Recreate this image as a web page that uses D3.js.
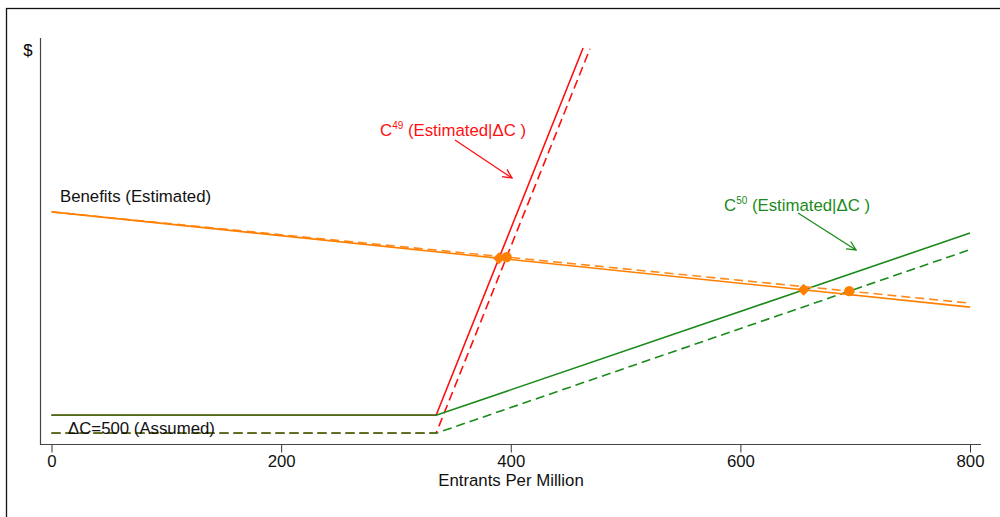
<!DOCTYPE html>
<html>
<head>
<meta charset="utf-8">
<script src="https://cdn.jsdelivr.net/npm/d3@7/dist/d3.min.js"></script>
<style>
  body { margin: 0; background: #fff; }
  text { font-family: "Liberation Sans", Arial, sans-serif; }
</style>
</head>
<body>
<div id="chart"></div>
<script>
// x ticks
const xTicks = [0, 200, 400, 600, 800];

// benefit curves [entrants, $]
const benefitSolid = [[0, 6460], [800, 3810]];
const benefitDashed = [[0, 6460], [800, 3920]];

// cost curves (flat at delta C, then rising)
const c49Solid = [[0, 800], [335, 800], [463, 11020]];
const c49Dashed = [[0, 300], [335, 300], [469, 11000]];
const c50Solid = [[0, 800], [335, 800], [800, 5870]];
const c50Dashed = [[0, 300], [335, 300], [800, 5410]];

const width = 1000, height = 517;
const fontSize = 16.8;

const svg = d3.select('#chart').append('svg')
  .attr('width', width)
  .attr('height', height);

svg.append('rect')
  .attr('x', 6.5).attr('y', 8.5)
  .attr('width', 1000).attr('height', 600)
  .attr('fill', 'none')
  .attr('stroke', '#111')
  .attr('stroke-width', 1.3);

const x = d3.scaleLinear().domain([0, 800]).range([51.5, 970]);
const y = d3.scaleLinear().domain([0, 11300]).range([444, 38]);

// axes
const xAxis = svg.append('g')
  .attr('transform', 'translate(0,444.5)')
  .call(d3.axisBottom(x).tickValues(xTicks).tickSize(8).tickPadding(3));
xAxis.select('.domain').remove();
xAxis.selectAll('line').attr('stroke', '#333');
xAxis.selectAll('text').attr('font-size', fontSize).attr('fill', '#111')
  .attr('font-family', '"Liberation Sans", Arial, sans-serif');

svg.append('line')
  .attr('x1', 40).attr('x2', 981)
  .attr('y1', 444.5).attr('y2', 444.5)
  .attr('stroke', '#444').attr('stroke-width', 1.2);
svg.append('line')
  .attr('x1', 40.5).attr('x2', 40.5)
  .attr('y1', 38).attr('y2', 445)
  .attr('stroke', '#444').attr('stroke-width', 1.2);

svg.append('text').attr('x', 28).attr('y', 56)
  .attr('text-anchor', 'middle').attr('font-size', fontSize).text('$');
svg.append('text').attr('x', 511).attr('y', 486)
  .attr('text-anchor', 'middle').attr('font-size', fontSize).attr('fill', '#111')
  .text('Entrants Per Million');

const line = d3.line().x(d => x(d[0])).y(d => y(d[1]));

function drawLine(data, color, dashed, w) {
  svg.append('path')
    .attr('d', line(data))
    .attr('fill', 'none')
    .attr('stroke', color)
    .attr('stroke-width', w || 1.6)
    .attr('stroke-dasharray', dashed ? '9,5' : null);
}

drawLine(c49Solid, '#ff1010', false);
drawLine(c49Dashed, '#ff1010', true);
drawLine(c50Solid, '#1a8a1a', false);
drawLine(c50Dashed, '#1a8a1a', true);
// overlapping flat parts of both cost curves
drawLine(c50Solid.slice(0, 2), '#4f6a1a', false);
drawLine(c50Dashed.slice(0, 2), '#5a6a1e', true, 1.8);
drawLine(benefitDashed, '#ff8a1a', true);
drawLine(benefitSolid, '#ff7f00', false);

// intersections of two straight segments
function intersect(a, b) {
  const [p1, p2] = a, [p3, p4] = b;
  const m1 = (p2[1] - p1[1]) / (p2[0] - p1[0]);
  const m2 = (p4[1] - p3[1]) / (p4[0] - p3[0]);
  const xi = (p3[1] - m2 * p3[0] - p1[1] + m1 * p1[0]) / (m1 - m2);
  return [xi, p1[1] + m1 * (xi - p1[0])];
}

const diamonds = [intersect(benefitSolid, c49Solid.slice(1)), intersect(benefitSolid, c50Solid.slice(1))];
const circles = [intersect(benefitDashed, c49Dashed.slice(1)), intersect(benefitDashed, c50Dashed.slice(1))];

svg.selectAll('.dia').data(diamonds).enter().append('path')
  .attr('d', d3.symbol().type(d3.symbolSquare).size(72))
  .attr('transform', d => 'translate(' + x(d[0]) + ',' + y(d[1]) + ') rotate(45)')
  .attr('fill', '#ff7f00');
svg.selectAll('.circ').data(circles).enter().append('circle')
  .attr('cx', d => x(d[0])).attr('cy', d => y(d[1])).attr('r', 5.2)
  .attr('fill', '#ff7f00');

// labels
function arrow(x1, y1, x2, y2, color) {
  svg.append('line').attr('x1', x1).attr('y1', y1).attr('x2', x2).attr('y2', y2)
    .attr('stroke', color).attr('stroke-width', 1.3);
  const a = Math.atan2(y2 - y1, x2 - x1), len = 10, sp = 0.45;
  svg.append('path')
    .attr('d', 'M' + (x2 - len * Math.cos(a - sp)) + ',' + (y2 - len * Math.sin(a - sp)) +
      'L' + x2 + ',' + y2 + 'L' + (x2 - len * Math.cos(a + sp)) + ',' + (y2 - len * Math.sin(a + sp)))
    .attr('fill', 'none').attr('stroke', color).attr('stroke-width', 1.3);
}

function costLabel(tx, ty, sup, color) {
  const t = svg.append('text').attr('x', tx).attr('y', ty).attr('font-size', fontSize).attr('fill', color);
  t.append('tspan').text('C');
  t.append('tspan').attr('dy', -7).attr('font-size', 10).text(sup);
  t.append('tspan').attr('dy', 7).text(' (Estimated|\u0394C )');
}

costLabel(380, 136, '49', '#ff1010');
arrow(455, 140, 512, 178, '#ff1010');
costLabel(724, 211, '50', '#1a8a1a');
arrow(798, 213, 856, 250, '#1a8a1a');

svg.append('text').attr('x', 60).attr('y', 202).attr('font-size', fontSize).attr('fill', '#111')
  .text('Benefits (Estimated)');
svg.append('text').attr('x', 68).attr('y', 434).attr('font-size', fontSize).attr('fill', '#111')
  .text('\u0394C=500 (Assumed)');
</script>
</body>
</html>
